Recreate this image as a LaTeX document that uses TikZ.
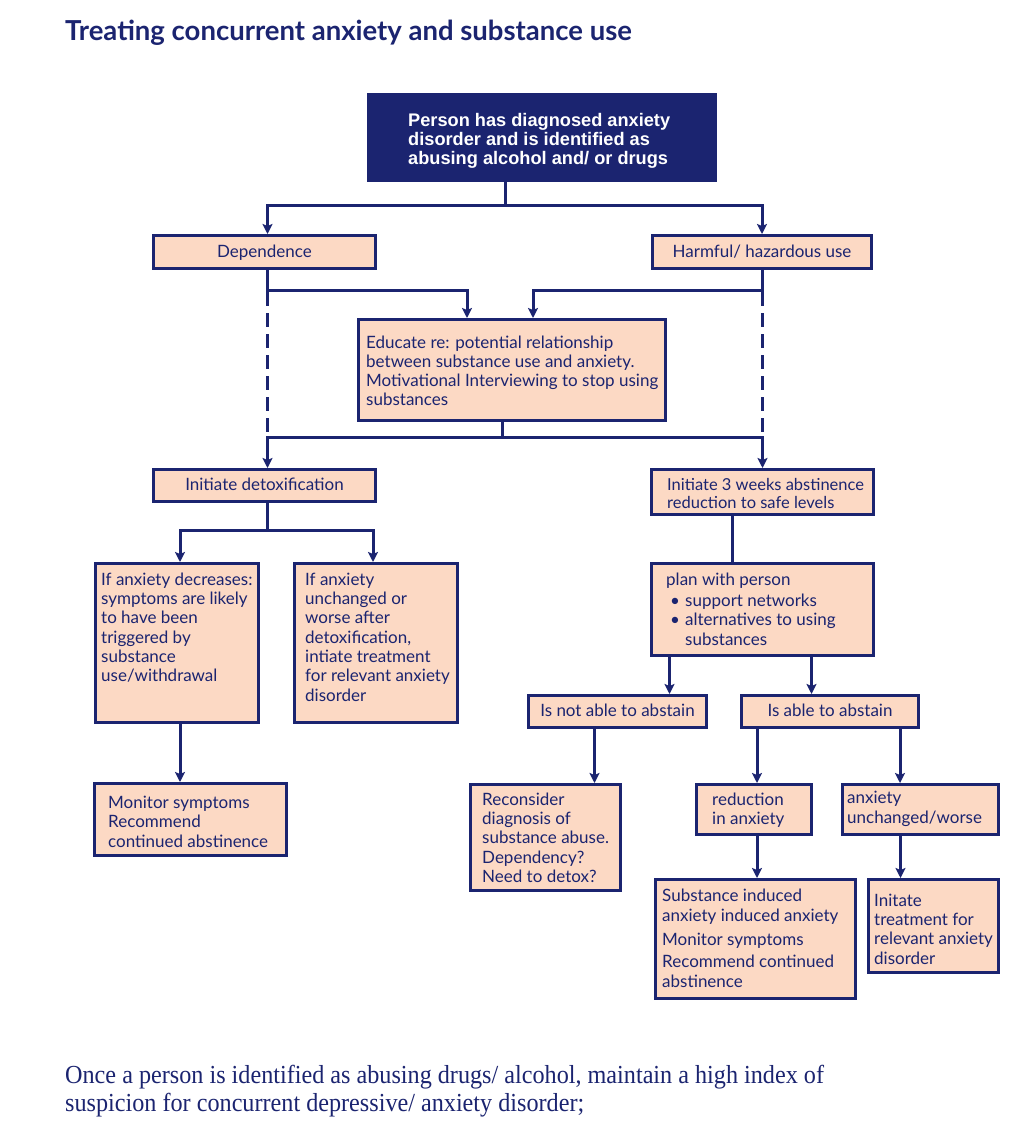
\documentclass[tikz,border=0pt]{standalone}
\usepackage{fontspec}
\setmainfont{Lato}
\newfontfamily\helv{Liberation Sans}
\newfontfamily\footfont[FakeStretch=0.93]{Liberation Serif}
\usetikzlibrary{arrows.meta,calc}
\definecolor{navy}{RGB}{27,36,112}
\definecolor{peach}{RGB}{252,217,196}
\newcommand\bodyfont{\fontsize{17}{19.3}\selectfont}
\begin{document}
\begin{tikzpicture}[x=1pt,y=-1pt,
  box/.style={draw=navy, line width=3pt, fill=peach, inner sep=0pt, anchor=north west,
    font=\bodyfont, text=navy, text height=13pt, text depth=3pt},
  txt/.style={inner sep=0pt, align=left, font=\bodyfont, text=navy, anchor=north west},
  conn/.style={draw=navy, line width=3pt},
  arr/.style={conn, -{Stealth[length=10pt,width=10pt,inset=2pt]}},
  dashline/.style={conn, dash pattern=on 14pt off 7pt}]
\useasboundingbox[fill=white] (0,0) rectangle (1024,1130);

% title
\node[anchor=base west, inner sep=0pt, text=navy, font=\bfseries\fontsize{27.5}{32}\selectfont] (title) at (65,40) {Treating concurrent anxiety and substance use};

% boxes
\node[box, fill=navy, minimum width=347pt, minimum height=86pt] (top) at (367,93) {};
\node[inner sep=0pt, align=left, anchor=north west, text=white, font=\helv\bfseries\fontsize{18.2}{19}\selectfont] (top-t) at (408,112.7) {\strut Person has diagnosed anxiety\\disorder and is identified as\\abusing alcohol and/ or drugs};

\node[box, minimum width=222pt, minimum height=33pt] (dep) at (152,234) {Dependence};
\node[box, minimum width=219pt, minimum height=33pt] (harm) at (651,234) {Harmful/ hazardous use};

\node[box, minimum width=307pt, minimum height=101pt] (edu) at (357,318) {};
\node[txt, font=\fontsize{17}{19}\selectfont] (edu-t) at (366,334.7) {\strut Educate re: potential relationship\\between substance use and anxiety.\\Motivational Interviewing to stop using\\substances};

\node[box, minimum width=222pt, minimum height=32pt] (detox) at (152,468) {Initiate detoxification};
\node[box, minimum width=222pt, minimum height=45pt] (weeks) at (650,468) {};
\node[txt, font=\fontsize{16.5}{18.5}\selectfont] (weeks-t) at (667,477) {\strut Initiate 3 weeks abstinence\\reduction to safe levels};

\node[box, minimum width=163pt, minimum height=159pt] (A) at (94,562) {};
\node[txt] (A-t) at (101,571.5) {\strut If anxiety decreases:\\symptoms are likely\\to have been\\triggered by\\substance\\use/withdrawal};
\node[box, minimum width=163pt, minimum height=159pt] (B) at (293,562) {};
\node[txt] (B-t) at (305,571.5) {\strut If anxiety\\unchanged or\\worse after\\detoxification,\\intiate treatment\\for relevant anxiety\\disorder};

\node[box, minimum width=192pt, minimum height=72pt] (mon) at (93,782) {};
\node[txt, font=\fontsize{17}{19.5}\selectfont] (mon-t) at (108,794.3) {\strut Monitor symptoms\\Recommend\\continued abstinence};

\node[box, minimum width=222pt, minimum height=92pt] (plan) at (650,562) {};
\node[txt] (plan-t) at (666,571.5) {\strut plan with person\\[2pt]
  \hspace*{4pt}\makebox[15pt][l]{\textbullet}support networks\\
  \hspace*{4pt}\makebox[15pt][l]{\textbullet}alternatives to using\\
  \hspace*{19pt}substances};

\node[box, minimum width=178pt, minimum height=32pt] (notab) at (527,694) {Is not able to abstain};
\node[box, minimum width=177pt, minimum height=32pt] (able) at (740,694) {Is able to abstain};

\node[box, minimum width=150pt, minimum height=106pt] (recon) at (469,783) {};
\node[txt] (recon-t) at (482,791.5) {\strut Reconsider\\diagnosis of\\substance abuse.\\Dependency?\\Need to detox?};

\node[box, minimum width=115pt, minimum height=50pt] (red) at (695,783) {};
\node[txt] (red-t) at (712,791.5) {\strut reduction\\in anxiety};
\node[box, minimum width=156pt, minimum height=50pt] (unch) at (841,783) {};
\node[txt, font=\fontsize{17}{20}\selectfont] (unch-t) at (847,789) {\strut anxiety\\unchanged/worse};

\node[box, minimum width=200pt, minimum height=119pt] (subst) at (654,878) {};
\node[txt] (subst-t) at (662,888.2) {\strut Substance induced\\anxiety induced anxiety\\[5pt]Monitor symptoms\\[3pt]Recommend continued\\abstinence};
\node[box, minimum width=130pt, minimum height=93pt] (init) at (867,878) {};
\node[txt] (init-t) at (874,892.5) {\strut Initate\\treatment for\\relevant anxiety\\disorder};

% footer
\node[inner sep=0pt, align=left, anchor=north west, text=navy, font=\footfont\fontsize{26}{28}\selectfont] (foot) at (65,1063.4) {\strut Once a person is identified as abusing drugs/ alcohol, maintain a high index of\\suspicion for concurrent depressive/ anxiety disorder;};

% connectors
\coordinate (j1) at (505,205);
\draw[conn] ([xshift=-37pt]top.south) -- (j1);
\draw[arr] (j1) -| ([xshift=3pt]dep.north);
\draw[arr] (j1) -| (harm.north);

\coordinate (eL) at ($(edu.north west)+(110,0)$);
\coordinate (eR) at ($(edu.north west)+(176,0)$);
\draw[arr] ([xshift=3pt]dep.south) -- ++(0,20) -| (eL);
\draw[arr] (harm.south) -- ++(0,20) -| (eR);

\draw[conn] ([xshift=-10pt]edu.south) -- ++(0,15) coordinate (j3);
\draw[dashline] ($([xshift=3pt]dep.south)+(0,22)$) -- ([xshift=3pt]dep.south |- j3);
\draw[dashline] ($(harm.south)+(0,22)$) -- (harm.south |- j3);
\draw[arr] (j3) -| ([xshift=3pt]detox.north);
\draw[arr] (j3) -| (weeks.north);

\draw[conn] ([xshift=3pt]detox.south) -- ++(0,27) coordinate (j4);
\draw[arr] (j4) -| ([xshift=3pt]A.north);
\draw[arr] (j4) -| ([xshift=-3pt]B.north);
\draw[arr] ([xshift=3pt]A.south) -- ([xshift=3pt]A.south |- mon.north);

\draw[conn] ([xshift=-30pt]weeks.south) -- ([xshift=-30pt]weeks.south |- plan.north);
\draw[arr] ([xshift=-93pt]plan.south) -- ([xshift=-93pt]plan.south |- notab.north);
\draw[arr] ([xshift=49pt]plan.south) -- ([xshift=49pt]plan.south |- able.north);
\draw[arr] ([xshift=-23pt]notab.south) -- ([xshift=-23pt]notab.south |- recon.north);
\draw[arr] ([xshift=-73pt]able.south) -- ([xshift=-73pt]able.south |- red.north);
\draw[arr] ([xshift=70pt]able.south) -- ([xshift=70pt]able.south |- unch.north);
\draw[arr] ([xshift=3pt]red.south) -- ([xshift=3pt]red.south |- subst.north);
\draw[arr] ([xshift=-20pt]unch.south) -- ([xshift=-20pt]unch.south |- init.north);
\end{tikzpicture}
\end{document}
